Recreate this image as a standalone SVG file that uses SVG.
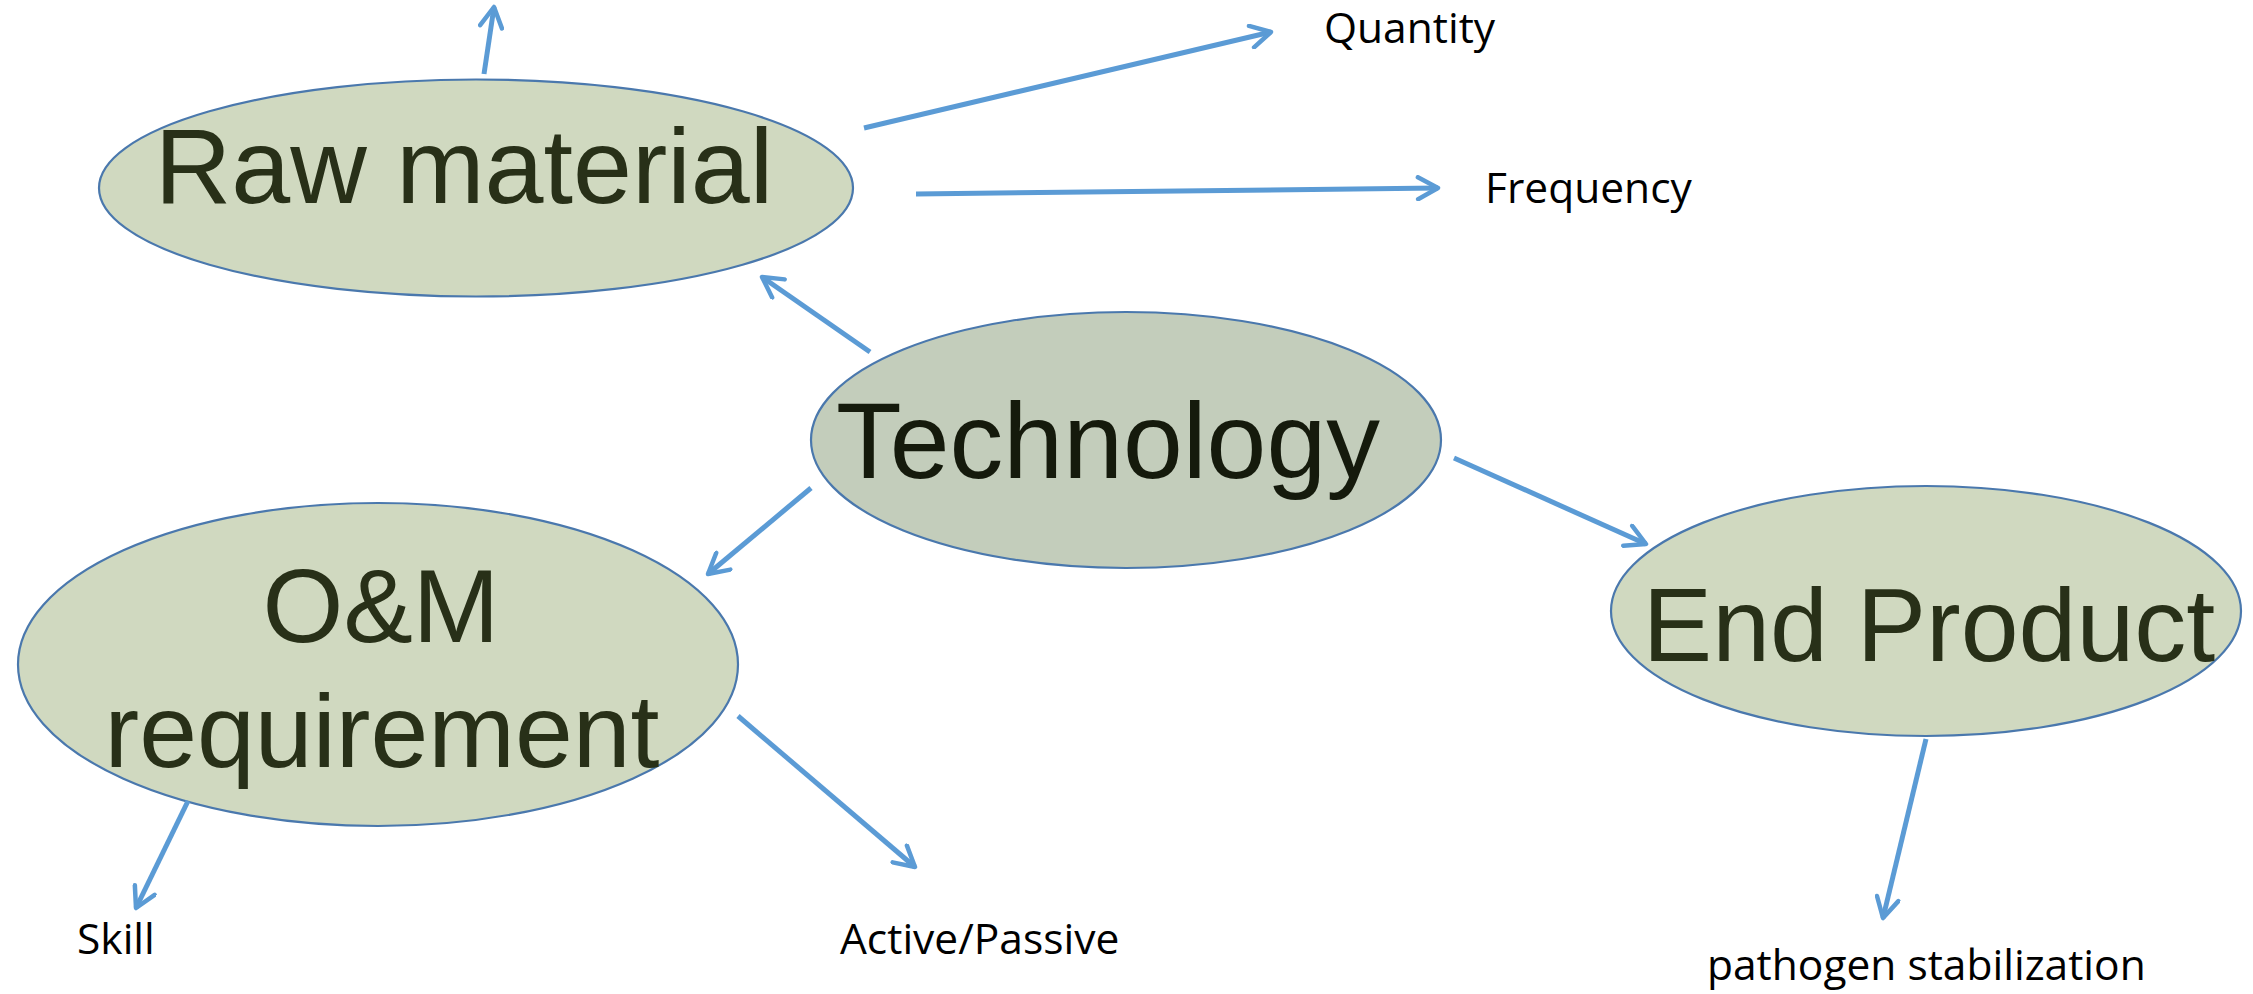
<svg xmlns="http://www.w3.org/2000/svg" width="2253" height="994" viewBox="0 0 2253 994">
<style>
.node{stroke:#4a78ad;stroke-width:2.2}
.lt{fill:#d0d9c0}
.dk{fill:#c3cdbb}
.big{font-family:"Liberation Sans",Arial,sans-serif;font-size:104px;fill:#283018;text-anchor:middle}
.lbl{font-family:"Open Sans","Noto Sans",sans-serif;font-size:42.5px;fill:#000}
.conn line{stroke:#5b9bd5;stroke-width:5;fill:none;marker-end:url(#arr)}
</style>
<defs>
<marker id="arr" markerUnits="userSpaceOnUse" markerWidth="26" markerHeight="26" viewBox="0 0 26 26" refX="23" refY="13" orient="auto">
<path d="M3,2 L23,13 L3,24" fill="none" stroke="#5b9bd5" stroke-width="4.5" stroke-linecap="round" stroke-linejoin="round"/>
</marker>
</defs>
<rect width="2253" height="994" fill="#fff"/>
<g id="raw-material">
<ellipse class="node lt" cx="476" cy="188" rx="377" ry="108.5"/>
<text class="big" x="464" y="203" style="font-size:106px">Raw material</text>
</g>
<g id="technology">
<ellipse class="node dk" cx="1126" cy="440" rx="315" ry="128"/>
<text class="big" x="1108" y="478" style="fill:#151a0c;font-size:107.5px">Technology</text>
</g>
<g id="om-requirement">
<ellipse class="node lt" cx="378" cy="664.5" rx="360" ry="161.5"/>
<text class="big" x="381" y="642">O&amp;M</text>
<text class="big" x="382" y="767">requirement</text>
</g>
<g id="end-product">
<ellipse class="node lt" cx="1926" cy="611" rx="315" ry="125"/>
<text class="big" x="1929" y="661">End Product</text>
</g>
<g id="quantity"><text class="lbl" x="1324" y="43">Quantity</text></g>
<g id="frequency"><text class="lbl" x="1485" y="203">Frequency</text></g>
<g id="skill"><text class="lbl" x="77" y="954">Skill</text></g>
<g id="active-passive"><text class="lbl" x="840" y="954">Active/Passive</text></g>
<g id="pathogen"><text class="lbl" x="1707" y="980">pathogen stabilization</text></g>
<g id="connectors" class="conn">
<line x1="484" y1="74" x2="494" y2="7"/>
<line x1="864" y1="128" x2="1271" y2="32"/>
<line x1="916" y1="194" x2="1438" y2="188"/>
<line x1="870" y1="352" x2="762" y2="277"/>
<line x1="811" y1="488" x2="708" y2="574"/>
<line x1="1454" y1="458" x2="1646" y2="544"/>
<line x1="1926" y1="739" x2="1883" y2="918"/>
<line x1="188" y1="801" x2="136" y2="908"/>
<line x1="738" y1="716" x2="915" y2="867"/>
</g>
</svg>
